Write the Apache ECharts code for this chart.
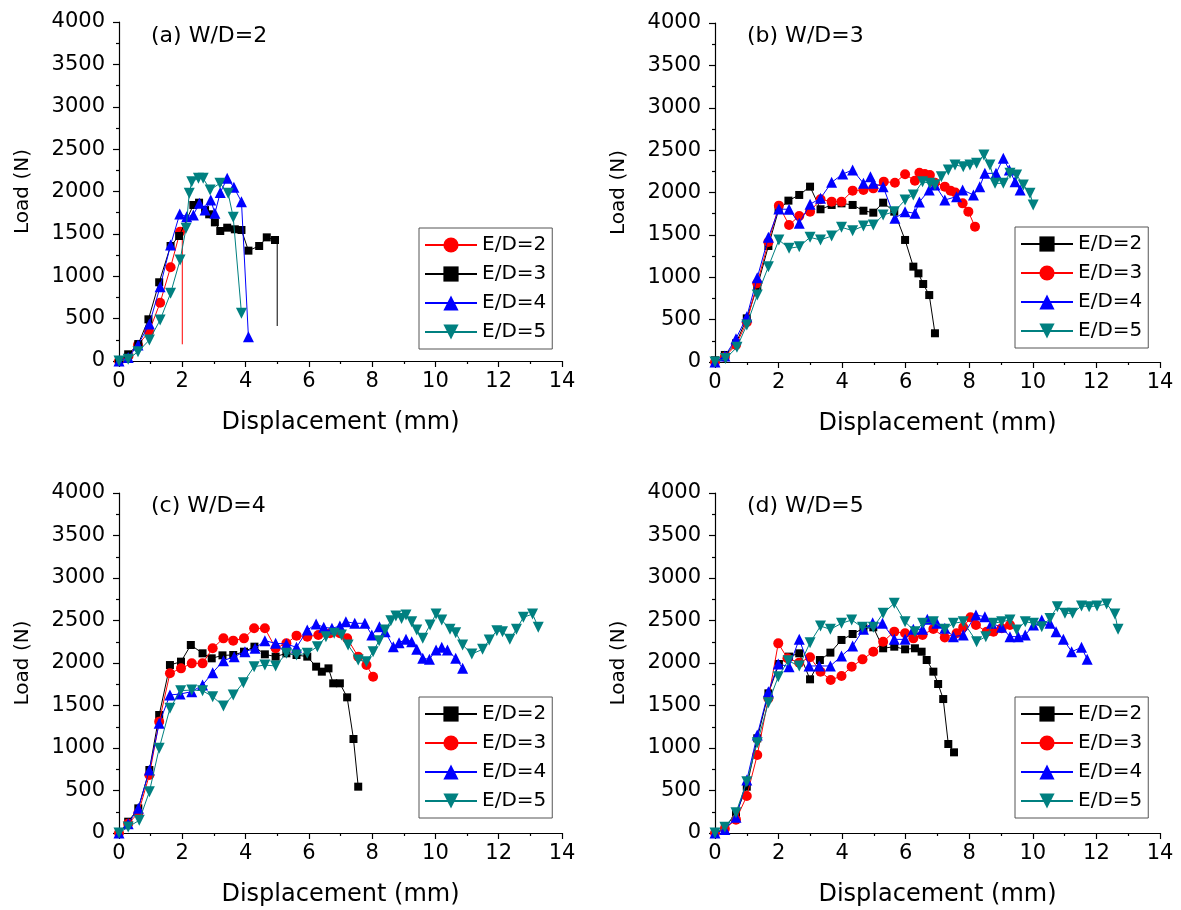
<!DOCTYPE html>
<html><head><meta charset="utf-8">
<script src="https://cdn.jsdelivr.net/npm/echarts@6/dist/echarts.min.js"></script>
<style>html,body{margin:0;padding:0;background:#fff}#c{width:1181px;height:910px}</style>
</head><body><div id="c"></div>
<script>
// ---- tick labels / categories ----
const xTicks = [0, 2, 4, 6, 8, 10, 12, 14];
const yTicks = [0, 500, 1000, 1500, 2000, 2500, 3000, 3500, 4000];
const panelTitles = ['(a) W/D=2', '(b) W/D=3', '(c) W/D=4', '(d) W/D=5'];
const legendNames = ['E/D=2', 'E/D=3', 'E/D=4', 'E/D=5'];

// ---- Panel (a) W/D=2 : [displacement mm, load N] ----
const a_ED2 = [[0,0],[0.3,60],[0.6,189],[0.95,346],[1.3,688],[1.63,1106],[1.93,1526],[2.0,1580],[2.0,197]];
const a_ED3 = [[0,0],[0.29,79],[0.61,200],[0.93,492],[1.27,929],[1.63,1357],[1.9,1475],[2.35,1841],[2.53,1868],[2.72,1781],[2.85,1731],[3.03,1636],[3.2,1534],[3.42,1573],[3.66,1554],[3.87,1546],[4.09,1302],[4.43,1357],[4.67,1459],[4.93,1428],[5.0,1420],[5.0,413]];
const a_ED4 = [[0,0],[0.29,40],[0.6,189],[0.96,437],[1.3,877],[1.63,1369],[1.92,1735],[2.14,1703],[2.35,1723],[2.54,1861],[2.72,1781],[2.9,1900],[3.03,1742],[3.2,1987],[3.42,2156],[3.63,2049],[3.87,1880],[4.09,287]];
const a_ED5 = [[0,0],[0.29,20],[0.6,110],[0.96,248],[1.3,484],[1.63,799],[1.93,1192],[2.12,1566],[2.22,1979],[2.3,2116],[2.51,2156],[2.66,2156],[2.88,2018],[3.19,2097],[3.45,1979],[3.61,1696],[3.87,563]];

// ---- Panel (b) W/D=3 ----
const b_ED2 = [[0,20],[0.31,83],[0.66,220],[1.0,515],[1.33,889],[1.68,1369],[2.0,1794],[2.31,1904],[2.65,1971],[2.99,2069],[3.32,1802],[3.67,1853],[3.98,1872],[4.33,1853],[4.67,1785],[4.98,1762],[5.29,1880],[5.64,1774],[5.98,1440],[6.24,1125],[6.4,1046],[6.55,920],[6.74,790],[6.92,339]];
const b_ED3 = [[0,0],[0.31,60],[0.66,200],[1.0,470],[1.33,929],[1.68,1416],[2.01,1845],[2.33,1617],[2.65,1723],[2.99,1774],[3.32,1920],[3.67,1892],[3.98,1892],[4.33,2022],[4.67,2030],[4.98,2049],[5.31,2128],[5.66,2116],[5.98,2215],[6.29,2140],[6.43,2234],[6.6,2219],[6.76,2207],[6.92,2116],[7.23,2069],[7.41,2022],[7.56,2000],[7.79,1872],[7.97,1774],[8.18,1597]];
const b_ED4 = [[0,0],[0.31,70],[0.66,275],[1.0,535],[1.33,995],[1.68,1471],[2.01,1805],[2.33,1801],[2.65,1636],[2.99,1861],[3.32,1932],[3.67,2120],[4.02,2218],[4.33,2266],[4.67,2108],[4.89,2187],[4.98,2108],[5.29,2069],[5.66,1695],[5.98,1774],[6.29,1754],[6.43,1888],[6.74,2030],[6.92,2089],[7.23,1912],[7.6,1951],[7.79,2030],[8.13,1971],[8.33,2069],[8.49,2226],[8.84,2226],[9.07,2403],[9.26,2266],[9.44,2128],[9.6,2030]];
const b_ED5 = [[0,0],[0.33,40],[0.69,173],[1.0,437],[1.33,790],[1.68,1125],[2.01,1440],[2.33,1341],[2.65,1361],[2.99,1471],[3.32,1440],[3.67,1487],[3.98,1589],[4.33,1550],[4.67,1605],[4.98,1617],[5.29,1734],[5.64,1774],[5.98,1912],[6.24,1971],[6.53,2128],[6.76,2108],[6.92,2089],[7.12,2187],[7.34,2266],[7.55,2325],[7.81,2305],[8.02,2325],[8.23,2345],[8.46,2443],[8.65,2325],[8.81,2108],[9.07,2108],[9.28,2226],[9.49,2207],[9.7,2089],[9.91,1990],[10.01,1853]];

// ---- Panel (c) W/D=4 ----
const c_ED2 = [[0,0],[0.29,133],[0.61,290],[0.96,741],[1.27,1388],[1.61,1976],[1.96,2016],[2.27,2212],[2.64,2114],[2.93,2055],[3.27,2090],[3.61,2094],[3.95,2133],[4.28,2192],[4.61,2102],[4.95,2075],[5.29,2114],[5.61,2094],[5.95,2075],[6.23,1957],[6.41,1898],[6.62,1937],[6.77,1761],[6.98,1761],[7.21,1596],[7.41,1106],[7.56,545]];
const c_ED3 = [[0,0],[0.29,110],[0.61,235],[0.96,682],[1.27,1310],[1.61,1879],[1.96,1937],[2.3,1996],[2.64,1996],[2.96,2173],[3.3,2290],[3.61,2263],[3.95,2290],[4.27,2408],[4.61,2408],[4.95,2173],[5.29,2231],[5.61,2322],[5.95,2310],[6.3,2329],[6.67,2349],[6.98,2349],[7.21,2290],[7.56,2075],[7.82,1976],[8.03,1839]];
const c_ED4 = [[0,0],[0.29,110],[0.61,290],[0.96,741],[1.27,1290],[1.61,1624],[1.93,1635],[2.3,1663],[2.64,1741],[2.96,1886],[3.3,2027],[3.64,2075],[3.98,2133],[4.3,2173],[4.61,2263],[4.95,2231],[5.29,2224],[5.61,2184],[5.95,2388],[6.23,2459],[6.47,2420],[6.73,2408],[6.98,2435],[7.17,2486],[7.45,2467],[7.77,2467],[7.99,2329],[8.23,2427],[8.41,2369],[8.67,2192],[8.85,2239],[9.07,2278],[9.25,2251],[9.41,2161],[9.6,2055],[9.81,2043],[10.02,2153],[10.2,2184],[10.38,2153],[10.64,2055],[10.86,1937]];
const c_ED5 = [[0,0],[0.29,71],[0.64,149],[0.96,486],[1.27,996],[1.61,1467],[1.95,1675],[2.3,1682],[2.64,1675],[2.96,1604],[3.3,1494],[3.61,1624],[3.93,1769],[4.27,1957],[4.61,1976],[4.95,1965],[5.29,2114],[5.61,2094],[5.95,2114],[6.27,2192],[6.54,2310],[6.8,2349],[7.03,2329],[7.24,2212],[7.56,2035],[7.82,2016],[8.03,2133],[8.22,2263],[8.41,2388],[8.59,2498],[8.75,2553],[8.93,2525],[9.07,2565],[9.25,2486],[9.41,2388],[9.6,2290],[9.83,2447],[10.02,2576],[10.2,2506],[10.46,2396],[10.64,2357],[10.86,2212],[11.15,2106],[11.49,2161],[11.7,2271],[11.94,2380],[12.12,2369],[12.35,2278],[12.56,2396],[12.78,2537],[13.07,2576],[13.25,2420]];

// ---- Panel (d) W/D=5 ----
const d_ED2 = [[0,0],[0.31,67],[0.66,224],[1.0,545],[1.33,1114],[1.68,1643],[2.01,1988],[2.33,2075],[2.65,2114],[2.99,1808],[3.3,2035],[3.63,2122],[3.98,2271],[4.33,2341],[4.67,2408],[4.98,2420],[5.29,2173],[5.64,2192],[5.98,2161],[6.29,2173],[6.5,2133],[6.66,2035],[6.87,1898],[7.02,1753],[7.18,1576],[7.34,1047],[7.52,949]];
const d_ED3 = [[0,0],[0.31,50],[0.66,157],[1.0,435],[1.33,918],[1.68,1584],[1.99,2231],[2.28,2055],[2.65,2004],[2.99,2067],[3.32,1898],[3.64,1800],[3.98,1847],[4.3,1957],[4.64,2043],[4.98,2133],[5.29,2251],[5.64,2369],[5.98,2349],[6.24,2290],[6.53,2330],[6.87,2400],[7.23,2300],[7.6,2350],[7.81,2420],[8.04,2537],[8.21,2447],[8.55,2369],[8.76,2369],[9.02,2408],[9.28,2447]];
const d_ED4 = [[0,0],[0.31,40],[0.66,184],[1.0,623],[1.33,1153],[1.68,1663],[1.99,1988],[2.33,1957],[2.65,2278],[2.96,1965],[3.28,1965],[3.63,1965],[3.98,2082],[4.33,2200],[4.67,2396],[4.96,2475],[5.27,2467],[5.64,2278],[5.98,2278],[6.24,2396],[6.53,2396],[6.68,2514],[6.98,2467],[7.23,2408],[7.5,2310],[7.81,2329],[8.21,2565],[8.49,2545],[8.7,2467],[9.02,2420],[9.28,2310],[9.54,2310],[9.76,2329],[10.02,2447],[10.28,2506],[10.54,2467],[10.73,2369],[10.96,2278],[11.22,2133],[11.53,2184],[11.71,2043]];
const d_ED5 = [[0,0],[0.31,67],[0.66,239],[1.0,604],[1.33,1063],[1.68,1533],[1.99,1839],[2.3,2027],[2.65,1965],[2.99,2239],[3.32,2435],[3.63,2396],[3.98,2467],[4.3,2506],[4.64,2420],[4.98,2420],[5.29,2584],[5.64,2702],[5.98,2486],[6.29,2369],[6.53,2467],[6.87,2486],[7.23,2396],[7.5,2467],[7.81,2486],[8.23,2251],[8.52,2310],[8.76,2467],[9.02,2486],[9.28,2506],[9.49,2388],[9.76,2486],[10.02,2467],[10.28,2427],[10.54,2525],[10.77,2663],[11.01,2584],[11.25,2584],[11.53,2671],[11.77,2663],[12.02,2671],[12.32,2694],[12.58,2576],[12.68,2396]];

// ---- styles ----
const FONT = 'DejaVu Sans';
const DOWN_TRI = 'path://M0,0 L10,0 L5,8.66 Z';
const STY = {
  black: {color: '#000000', symbol: 'rect', size: 8},
  red:   {color: '#ff0000', symbol: 'circle', size: 10},
  blue:  {color: '#0000ff', symbol: 'triangle', size: 11},
  teal:  {color: '#008080', symbol: DOWN_TRI, size: 11}
};

const grids = [
  {left: 119, top: 22, width: 443, height: 339},
  {left: 715, top: 23, width: 445, height: 339},
  {left: 119, top: 493, width: 443, height: 340},
  {left: 715, top: 493, width: 445, height: 340}
];
const legendPos = [
  {left: 419, top: 228}, {left: 1015, top: 227},
  {left: 419, top: 697}, {left: 1015, top: 697}
];
const titlePos = [
  {left: 151, top: 25}, {left: 747, top: 25},
  {left: 151, top: 495}, {left: 747, top: 495}
];

// each panel: series in legend order; tail = trailing points drawn as line only
const panels = [
  [{d: a_ED2, s: 'red', tail: 2}, {d: a_ED3, s: 'black', tail: 2}, {d: a_ED4, s: 'blue', tail: 0}, {d: a_ED5, s: 'teal', tail: 0}],
  [{d: b_ED2, s: 'black', tail: 0}, {d: b_ED3, s: 'red', tail: 0}, {d: b_ED4, s: 'blue', tail: 0}, {d: b_ED5, s: 'teal', tail: 0}],
  [{d: c_ED2, s: 'black', tail: 0}, {d: c_ED3, s: 'red', tail: 0}, {d: c_ED4, s: 'blue', tail: 0}, {d: c_ED5, s: 'teal', tail: 0}],
  [{d: d_ED2, s: 'black', tail: 0}, {d: d_ED3, s: 'red', tail: 0}, {d: d_ED4, s: 'blue', tail: 0}, {d: d_ED5, s: 'teal', tail: 0}]
];

const xAxes = [], yAxes = [], series = [], legends = [], titles = [];
panels.forEach((pan, p) => {
  xAxes.push({
    type: 'value', gridIndex: p, min: xTicks[0], max: xTicks[xTicks.length - 1], interval: 2,
    name: 'Displacement (mm)', nameLocation: 'middle', nameGap: 50,
    nameTextStyle: {fontFamily: FONT, fontSize: 24, color: '#000'},
    axisLine: {show: true, onZero: false, lineStyle: {color: '#000', width: 1.2}},
    axisTick: {show: true, inside: false, length: 6, lineStyle: {color: '#000', width: 1.2}},
    minorTick: {show: true, splitNumber: 2, length: 3, lineStyle: {color: '#000', width: 1.2}},
    axisLabel: {fontFamily: FONT, fontSize: 21, color: '#000', margin: 10, formatter: (v) => String(v)},
    splitLine: {show: false}
  });
  yAxes.push({
    type: 'value', gridIndex: p, min: yTicks[0], max: yTicks[yTicks.length - 1], interval: 500,
    name: 'Load (N)', nameLocation: 'middle', nameGap: 86, nameRotate: 90,
    nameTextStyle: {fontFamily: FONT, fontSize: 20, color: '#000'},
    axisLine: {show: true, onZero: false, lineStyle: {color: '#000', width: 1.2}},
    axisTick: {show: true, inside: false, length: 6, lineStyle: {color: '#000', width: 1.2}},
    minorTick: {show: true, splitNumber: 2, length: 3, lineStyle: {color: '#000', width: 1.2}},
    axisLabel: {fontFamily: FONT, fontSize: 21, color: '#000', margin: 14, formatter: (v) => String(v)},
    splitLine: {show: false}
  });
  const names = [];
  pan.forEach((sp, k) => {
    const st = STY[sp.s];
    const nm = 'p' + p + ':' + legendNames[k];
    names.push(nm);
    const n = sp.d.length;
    series.push({
      type: 'line', name: nm, xAxisIndex: p, yAxisIndex: p,
      data: sp.d.map((pt, i) => (i >= n - sp.tail) ? {value: pt, symbol: 'none'} : pt),
      symbol: st.symbol, symbolSize: st.size, showAllSymbol: true,
      lineStyle: {color: st.color, width: 1},
      itemStyle: {color: st.color, borderWidth: 0},
      z: 2 + k, animation: false
    });
  });
  legends.push({
    data: names, orient: 'vertical', left: legendPos[p].left, top: legendPos[p].top,
    itemWidth: 52, itemHeight: 19, itemGap: 9,
    padding: [7, 6, 7, 5],
    borderColor: '#555', borderWidth: 1, backgroundColor: '#fff',
    formatter: (name) => name.split(':')[1],
    textStyle: {fontFamily: FONT, fontSize: 20, color: '#000'},
    selectedMode: false
  });
  titles.push({
    text: panelTitles[p], left: titlePos[p].left, top: titlePos[p].top, padding: 0,
    textStyle: {fontFamily: FONT, fontSize: 22, fontWeight: 'normal', color: '#000'}
  });
});

const chart = echarts.init(document.getElementById('c'), null, {renderer: 'canvas'});
chart.setOption({
  backgroundColor: '#ffffff',
  animation: false,
  title: titles,
  legend: legends,
  grid: grids,
  xAxis: xAxes,
  yAxis: yAxes,
  series: series
});
</script></body></html>
